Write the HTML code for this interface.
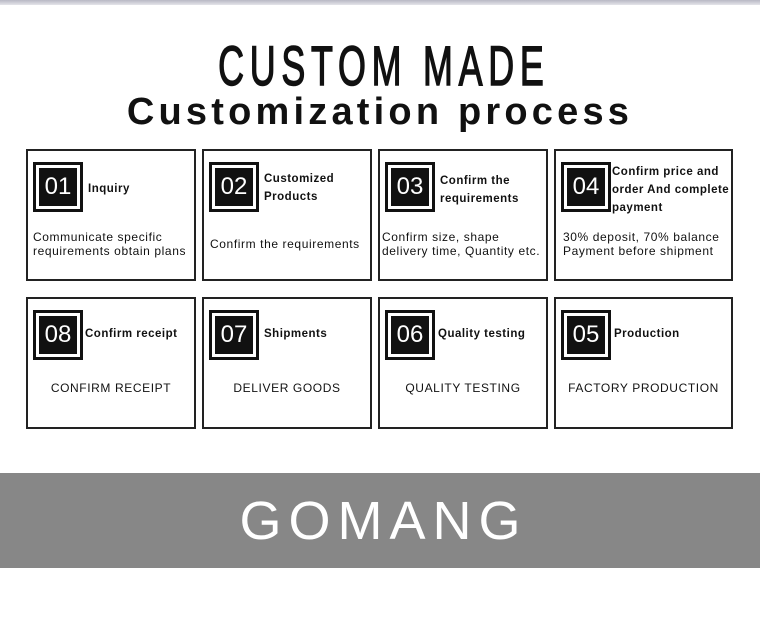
<!DOCTYPE html>
<html><head><style>
*{margin:0;padding:0;box-sizing:border-box}
body{width:760px;height:637px;background:#fff;position:relative;overflow:hidden;font-family:"Liberation Sans",sans-serif;color:#111}
.top{position:absolute;left:0;top:0;width:760px;height:5px;background:linear-gradient(#b8b8c4,#e4e4ea)}
.t1{position:absolute;left:0;width:760px;top:36px;text-align:center;font-size:56px;line-height:60px;letter-spacing:9px;transform:scaleX(0.64);transform-origin:380px 0;font-weight:normal;-webkit-text-stroke:1.5px #111;padding-left:12px}
.t2{position:absolute;left:0;width:760px;top:90px;text-align:center;font-size:38px;line-height:44px;font-weight:bold;letter-spacing:4.2px}
.box{position:absolute;border:2px solid #222;width:170px;height:132px}
.b{position:absolute;left:5px;top:11px;width:50px;height:50px;border:3px solid #111;padding:3px}
.b div{width:100%;height:100%;background:#111;color:#fff;font-size:24px;line-height:38px;text-align:center}
.h{position:absolute;left:60px;font-size:11.5px;font-weight:bold;line-height:18px;letter-spacing:0.5px}
.d{position:absolute;left:0;width:100%;font-size:12px;line-height:14px;letter-spacing:0.6px}
.band{position:absolute;left:0;top:473px;width:760px;height:95px;background:#878787}
.logo{position:absolute;left:0;width:760px;top:490px;text-align:center;color:#fff;font-size:54px;line-height:62px;font-weight:normal;letter-spacing:7px;padding-left:7px}
</style></head><body>
<div class="top"></div>
<div class="t1">CUSTOM MADE</div>
<div class="t2">Customization process</div>

<div class="box" style="left:26px;top:149px"><div class="b"><div>01</div></div><div class="h" style="top:29px">Inquiry</div><div class="d" style="top:79px;left:5px">Communicate specific<br>requirements obtain plans</div></div>
<div class="box" style="left:202px;top:149px"><div class="b"><div>02</div></div><div class="h" style="top:19px">Customized<br>Products</div><div class="d" style="top:86px;left:6px">Confirm the requirements</div></div>
<div class="box" style="left:378px;top:149px"><div class="b"><div>03</div></div><div class="h" style="top:21px">Confirm the<br>requirements</div><div class="d" style="top:79px;left:2px">Confirm size, shape<br>delivery time, Quantity etc.</div></div>
<div class="box" style="left:554px;top:149px;width:179px"><div class="b"><div>04</div></div><div class="h" style="top:12px;left:56px">Confirm price and<br>order And complete<br>payment</div><div class="d" style="top:79px;left:7px">30% deposit, 70% balance<br>Payment before shipment</div></div>

<div class="box" style="left:26px;top:297px"><div class="b"><div>08</div></div><div class="h" style="top:26px;left:57px">Confirm receipt</div><div class="d" style="top:82px;text-align:center">CONFIRM RECEIPT</div></div>
<div class="box" style="left:202px;top:297px"><div class="b"><div>07</div></div><div class="h" style="top:26px">Shipments</div><div class="d" style="top:82px;text-align:center">DELIVER GOODS</div></div>
<div class="box" style="left:378px;top:297px"><div class="b"><div>06</div></div><div class="h" style="top:26px;left:58px">Quality testing</div><div class="d" style="top:82px;text-align:center">QUALITY TESTING</div></div>
<div class="box" style="left:554px;top:297px;width:179px"><div class="b"><div>05</div></div><div class="h" style="top:26px;left:58px">Production</div><div class="d" style="top:82px;text-align:center">FACTORY PRODUCTION</div></div>

<div class="band"></div>
<div class="logo">GOMANG</div>
</body></html>
